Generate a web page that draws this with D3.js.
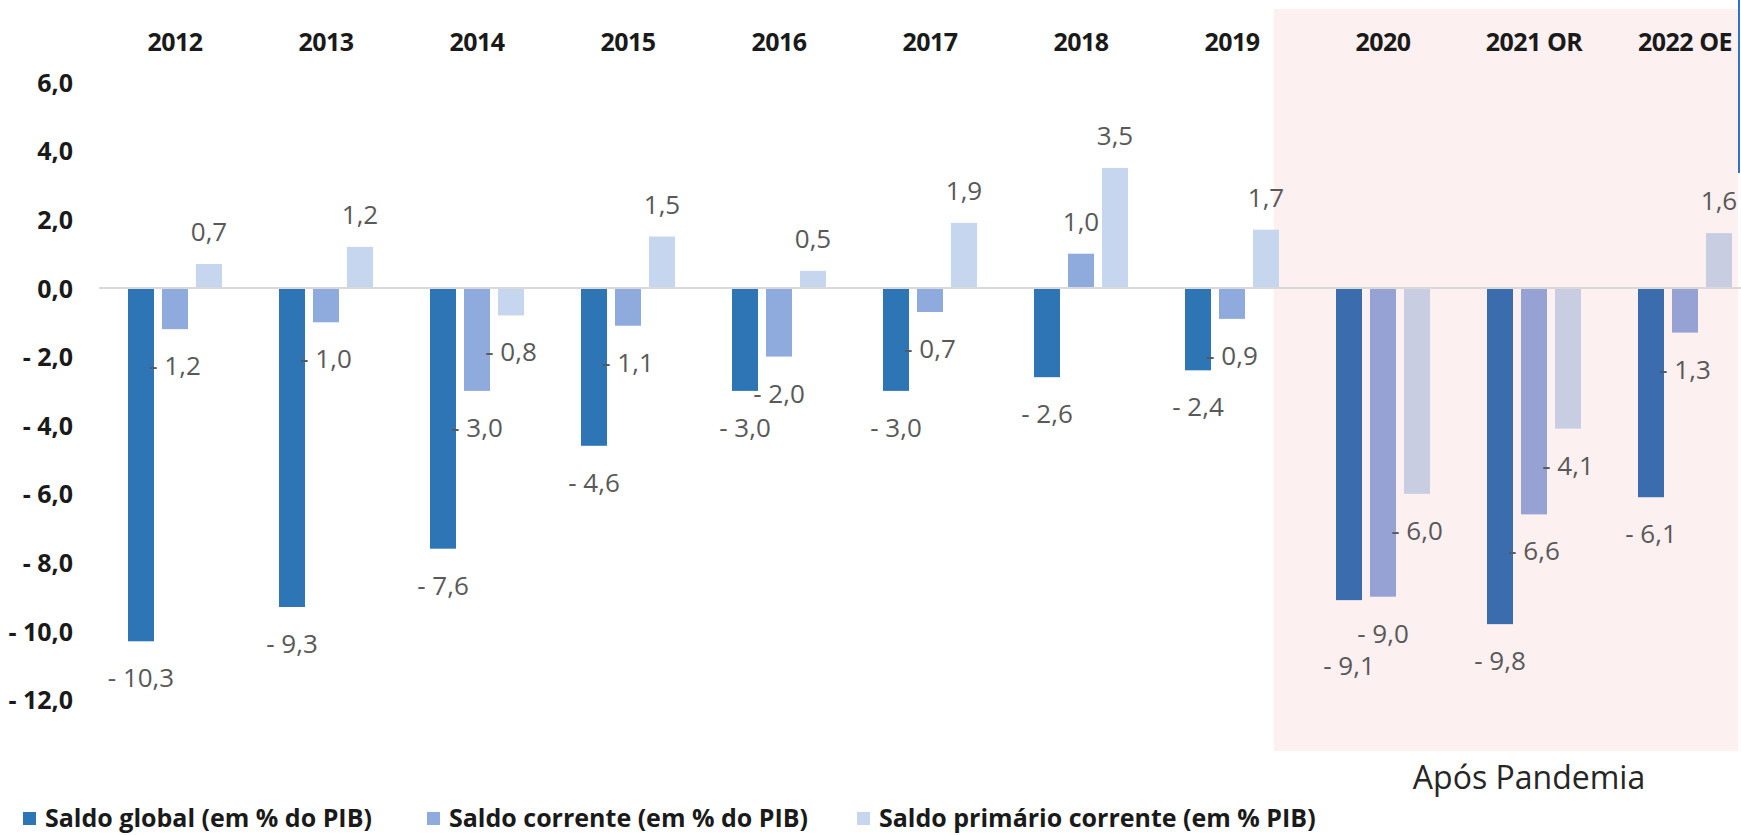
<!DOCTYPE html>
<html>
<head>
<meta charset="utf-8">
<script src="https://cdn.jsdelivr.net/npm/d3@7"></script>
<style>
  body { margin: 0; background: #fff; }
  svg { display: block; font-family: "Open Sans", sans-serif; }
</style>
</head>
<body>
<svg id="chart" width="1741" height="835"></svg>
<script>
// data
const anos = ['2012', '2013', '2014', '2015', '2016', '2017', '2018', '2019', '2020', '2021 OR', '2022 OE'];
const saldoGlobal = [-10.3, -9.3, -7.6, -4.6, -3.0, -3.0, -2.6, -2.4, -9.1, -9.8, -6.1];
const saldoCorrente = [-1.2, -1.0, -3.0, -1.1, -2.0, -0.7, 1.0, -0.9, -9.0, -6.6, -1.3];
const saldoPrimario = [0.7, 1.2, -0.8, 1.5, 0.5, 1.9, 3.5, 1.7, -6.0, -4.1, 1.6];
const seriesNomes = ['Saldo global (em % do PIB)', 'Saldo corrente (em % do PIB)', 'Saldo primário corrente (em % PIB)'];
const yTicks = [6, 4, 2, 0, -2, -4, -6, -8, -10, -12];
const anosPandemia = ['2020', '2021 OR', '2022 OE'];

const series = [saldoGlobal, saldoCorrente, saldoPrimario];
const cores = ['#2E75B6', '#8FAADC', '#C6D6EE'];
const coresPandemia = ['#3A6CAE', '#95A2D3', '#C8CDE2'];

const svg = d3.select('#chart');

const x = d3.scaleBand().domain(anos).range([99.5, 99.5 + 151 * anos.length]);
const xs = d3.scaleBand().domain([0, 1, 2]).range([-47, 47]).paddingInner(8 / 34);
const y = d3.scaleLinear().domain([-12, 6]).range([699.6, 82.2]);

const fmt = v => {
    let s = Math.abs(v).toFixed(1).replace('.', ',');
    return v < 0 ? '- ' + s : s;
};

// pandemic area
svg.append('rect')
    .attr('x', 1274)
    .attr('y', 9)
    .attr('width', 1738 - 1274)
    .attr('height', 751 - 9)
    .attr('fill', '#FDF0F0');

// zero line
svg.append('line')
    .attr('x1', 99)
    .attr('x2', 1741)
    .attr('y1', y(0))
    .attr('y2', y(0))
    .attr('stroke', '#D9D9D9')
    .attr('stroke-width', 2);

// bars
const rows = [];
anos.forEach((a, i) => {
    series.forEach((s, k) => rows.push({ ano: a, k: k, v: s[i] }));
});

svg.append('g').selectAll('rect')
    .data(rows)
    .join('rect')
    .attr('x', d => x(d.ano) + x.bandwidth() / 2 + xs(d.k))
    .attr('width', xs.bandwidth())
    .attr('y', d => d.v >= 0 ? y(d.v) : y(0) + 1)
    .attr('height', d => d.v >= 0 ? y(0) - 1 - y(d.v) : y(d.v) - y(0) - 1)
    .attr('fill', d => anosPandemia.includes(d.ano) ? coresPandemia[d.k] : cores[d.k]);

// value labels, pushed down a line when two labels of a year collide
const lblG = svg.append('g')
    .attr('font-size', 26)
    .attr('fill', '#595959')
    .attr('text-anchor', 'middle');

anos.forEach(a => {
    let placed = [];
    [2, 1, 0].forEach(k => {
        let d = rows.find(r => r.ano == a && r.k == k);
        let cx = x(a) + x.bandwidth() / 2 + xs(k) + xs.bandwidth() / 2;
        let by = d.v >= 0 ? y(d.v) - 23 : y(d.v) + 46;
        let t = lblG.append('text').attr('x', cx).text(fmt(d.v));
        let w = t.node().getComputedTextLength();
        if (d.v < 0) {
            placed.forEach(p => {
                if (Math.abs(p.x - cx) < (p.w + w) / 2 && Math.abs(p.y - by) < 26) by = p.y + 32;
            });
        }
        t.attr('y', by);
        placed.push({ x: cx, y: by, w: w });
    });
});

// y axis
const yAxis = svg.append('g')
    .attr('transform', 'translate(73,0)')
    .call(d3.axisLeft(y).tickValues(yTicks).tickSize(0).tickPadding(0).tickFormat(fmt))
    .attr('font-family', null)
    .attr('font-size', null);
yAxis.select('.domain').remove();
yAxis.selectAll('text')
    .attr('font-size', 25)
    .attr('font-weight', 'bold')
    .attr('fill', '#1A1A1A')
    .attr('dy', '0.36em');

// category axis on top
const xAxis = svg.append('g')
    .attr('transform', 'translate(0,51)')
    .call(d3.axisTop(x).tickSize(0).tickPadding(0))
    .attr('font-family', null)
    .attr('font-size', null);
xAxis.select('.domain').remove();
xAxis.selectAll('text')
    .attr('font-size', 25)
    .attr('font-weight', 'bold')
    .attr('letter-spacing', -0.5)
    .attr('fill', '#1A1A1A');

// annotation
svg.append('text')
    .attr('x', 1529)
    .attr('y', 789)
    .attr('text-anchor', 'middle')
    .attr('font-size', 32)
    .attr('fill', '#262626')
    .text('Após Pandemia');

// stray blue line at right edge
svg.append('line')
    .attr('x1', 1739).attr('x2', 1739)
    .attr('y1', 0).attr('y2', 173)
    .attr('stroke', '#2F73D0')
    .attr('stroke-width', 2);

// legend
const legX = [23, 427, 857];
const leg = svg.append('g').selectAll('g')
    .data(seriesNomes)
    .join('g')
    .attr('transform', (d, i) => `translate(${legX[i]},812)`);
leg.append('rect')
    .attr('width', 13)
    .attr('height', 13)
    .attr('fill', (d, i) => cores[i]);
leg.append('text')
    .attr('x', 22)
    .attr('y', 15)
    .attr('font-size', 25)
    .attr('font-weight', 'bold')
    .attr('fill', '#1A1A1A')
    .text(d => d);
</script>
</body>
</html>
